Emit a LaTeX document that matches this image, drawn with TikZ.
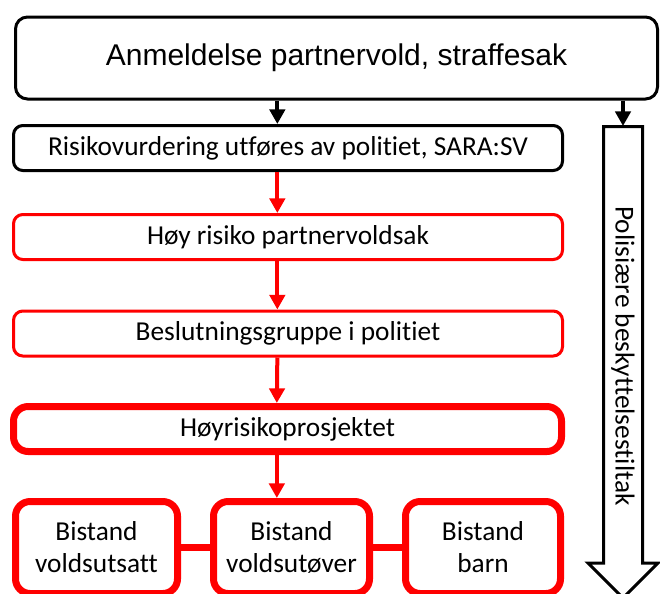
\documentclass[tikz,border=0pt]{standalone}
\usepackage{fontspec}
\setmainfont{Carlito}[Ligatures=NoCommon]
\newfontfamily\arialfont{Liberation Sans}
\usepackage{tikz}
\usetikzlibrary{arrows.meta}
\definecolor{alarm}{RGB}{255, 0, 0}
\definecolor{ink}{RGB}{0, 0, 0}

\begin{document}
\begin{tikzpicture}[x=0.75pt, y=-0.75pt,
    every node/.style={inner sep=0pt, align=center, font=\fontsize{20.5}{24}\selectfont},
    blackbox/.style={draw=ink, line width=2.25pt, rounded corners=7pt, minimum height=33.75pt},
    redbox/.style={draw=alarm, line width=2.25pt, rounded corners=7pt, minimum height=33.75pt},
    thickbox/.style={draw=alarm, line width=5.25pt, rounded corners=11pt},
    blkarr/.style={draw=ink, line width=3pt, -{Triangle[length=11pt, width=11.5pt]}},
    redarr/.style={draw=alarm, line width=3pt, -{Triangle[length=11pt, width=11.5pt]}}]
  \useasboundingbox (0,0) rectangle (660,593);
  \node[blackbox, minimum width=481.5pt, minimum height=61.5pt, rounded corners=9pt,
    font=\arialfont\fontsize{22.5}{26}\selectfont] (report) at (336.5,58)
    {Anmeldelse partnervold, straffesak};
  \node[blackbox, minimum width=411.75pt] (assess) at (288,148)
    {Risikovurdering utføres av politiet, SARA:SV};
  \node[redbox, minimum width=411.75pt] (highrisk) at (288,237)
    {Høy risiko partnervoldsak};
  \node[redbox, minimum width=411.75pt] (group) at (288,333.5)
    {Beslutningsgruppe i politiet};
  \node[thickbox, minimum width=411pt, minimum height=33.75pt] (project) at (287.5,429)
    {Høyrisikoprosjektet};
  \node[thickbox, minimum width=121.5pt, minimum height=69pt] (victim) at (96.5,547.5)
    {Bistand\\voldsutsatt};
  \node[thickbox, minimum width=117pt, minimum height=69pt] (offender) at (291.5,547.5)
    {Bistand\\voldsutøver};
  \node[thickbox, minimum width=116.25pt, minimum height=69pt] (child) at (483,547.5)
    {Bistand\\barn};
  % police measures, big hollow arrow
  \draw[ink, line width=2.25pt, fill=white] (603.5,126.5) -- (642.5,126.5) -- (642.5,563)
    -- (658,563) -- (623,598) -- (588,563) -- (603.5,563) -- cycle;
  \node[rotate=-90] (measures) at (623,356) {Polisiære beskyttelsestiltak};
  \coordinate (shafttop) at (623,126);
  % arrows
  \draw[blkarr] ([xshift=-8pt]report.south -| assess.north) -- ([xshift=-8pt]assess.north);
  \draw[blkarr] (report.south -| shafttop) -- (shafttop);
  \draw[redarr] ([xshift=-8pt]assess.south) -- ([xshift=-8pt]highrisk.north);
  \draw[redarr] ([xshift=-8pt]highrisk.south) -- ([xshift=-8pt]group.north);
  \draw[redarr] ([xshift=-8pt]group.south) -- ([xshift=-8pt]project.north);
  \draw[redarr] ([xshift=-8pt]project.south) -- ([xshift=-8pt]project.south |- offender.north);
  \draw[alarm, line width=5.25pt] (victim) -- (offender);
  \draw[alarm, line width=5.25pt] (offender) -- (child);
\end{tikzpicture}
\end{document}
